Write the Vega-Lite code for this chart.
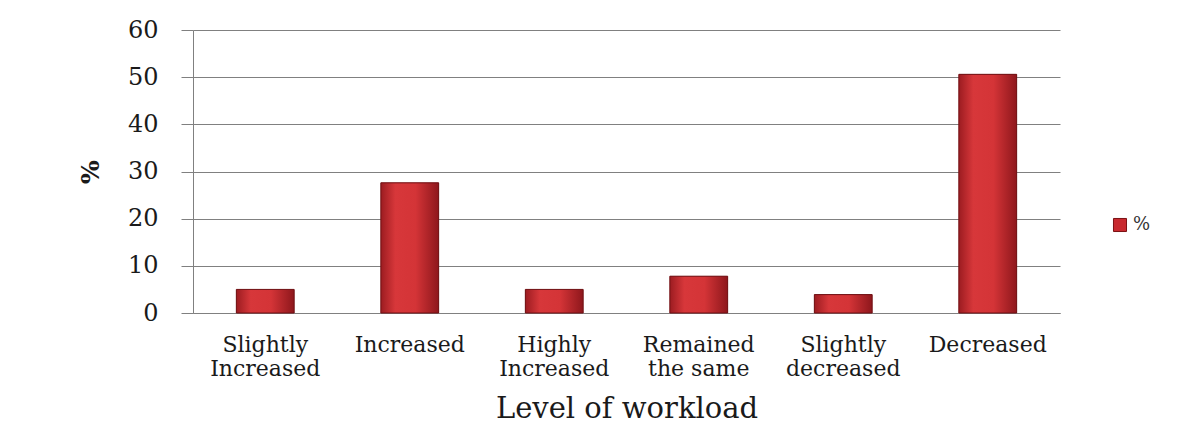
{
  "$schema": "https://vega.github.io/schema/vega-lite/v6.json",
  "width": 867,
  "height": 283,
  "autosize": {"type": "none"},
  "padding": {"left": 193, "top": 30, "right": 127, "bottom": 133},
  "background": "white",
  "data": {
    "values": [
      {"level": "Slightly Increased", "pct": 5.0},
      {"level": "Increased", "pct": 27.6},
      {"level": "Highly Increased", "pct": 5.0},
      {"level": "Remained the same", "pct": 7.8},
      {"level": "Slightly decreased", "pct": 3.9},
      {"level": "Decreased", "pct": 50.6}
    ]
  },
  "encoding": {
    "x": {
      "field": "level",
      "type": "nominal",
      "sort": null,
      "scale": {"paddingInner": 0.6, "paddingOuter": 0.3},
      "axis": {
        "title": "Level of workload",
        "labelAngle": 0,
        "labelExpr": "datum.label == 'Remained the same' ? ['Remained', 'the same'] : (indexof(datum.label, ' ') > 0 ? split(datum.label, ' ') : datum.label)",
        "labelFont": "DejaVu Serif",
        "labelFontSize": 22,
        "labelLineHeight": 24,
        "labelColor": "#1a1a1a",
        "labelPadding": 21,
        "labelOverlap": false,
        "ticks": false,
        "domainColor": "#808080",
        "domainWidth": 1,
        "titleFont": "DejaVu Serif",
        "titleFontSize": 29,
        "titleFontWeight": "normal",
        "titleColor": "#1a1a1a",
        "titlePadding": 15
      }
    },
    "y": {
      "field": "pct",
      "type": "quantitative",
      "scale": {"domain": [0, 60], "nice": false},
      "axis": {
        "title": "%",
        "values": [0, 10, 20, 30, 40, 50, 60],
        "labelFont": "DejaVu Serif",
        "labelFontSize": 24,
        "labelColor": "#1a1a1a",
        "labelPadding": 23,
        "tickSize": 12,
        "tickColor": "#808080",
        "domainColor": "#808080",
        "grid": true,
        "gridColor": "#808080",
        "gridWidth": 1,
        "titleFont": "DejaVu Serif",
        "titleFontSize": 25,
        "titleFontWeight": "bold",
        "titleColor": "#1a1a1a",
        "titlePadding": 24
      }
    }
  },
  "layer": [
    {
      "mark": {"type": "bar"},
      "encoding": {
        "color": {
          "datum": "%",
          "type": "nominal",
          "scale": {"range": ["#c8292f"]},
          "legend": {
            "title": null,
            "orient": "none",
            "legendX": 918,
            "legendY": 186,
            "symbolType": "square",
            "symbolSize": 170,
            "symbolStrokeColor": "#7a1114",
            "symbolStrokeWidth": 1,
            "labelFont": "DejaVu Serif",
            "labelFontSize": 18,
            "labelColor": "#333333",
            "padding": 0
          }
        }
      }
    },
    {
      "mark": {
        "type": "bar",
        "stroke": "#6e1114",
        "strokeWidth": 1,
        "fill": {
          "gradient": "linear",
          "x1": 0, "y1": 0, "x2": 1, "y2": 0,
          "stops": [
            {"offset": 0, "color": "#9c1c21"},
            {"offset": 0.25, "color": "#d7373a"},
            {"offset": 0.6, "color": "#d43437"},
            {"offset": 1, "color": "#8e171c"}
          ]
        }
      }
    }
  ],
  "config": {"view": {"stroke": null}}
}
